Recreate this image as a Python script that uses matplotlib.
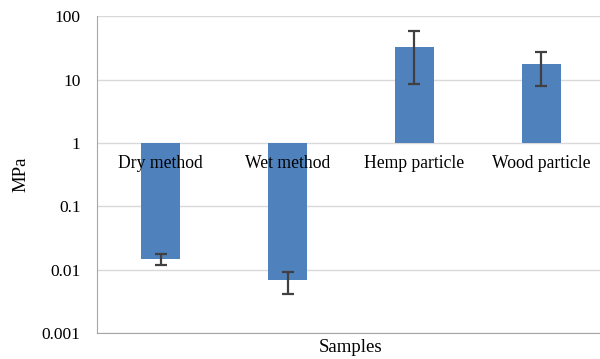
import matplotlib
matplotlib.use("Agg")
from matplotlib import pyplot as plt
import numpy as np

# data (log axis, bars hang from 1)
samples = ["Dry method", "Wet method", "Hemp particle", "Wood particle"]
mpa = [0.0147, 0.0069, 33.0, 17.5]
err_low = [0.0118, 0.0042, 8.4, 7.9]
err_high = [0.0176, 0.0093, 58.5, 27.3]

plt.rcParams['font.family'] = ['Liberation Serif', 'DejaVu Serif']

fig = plt.figure(figsize=(6.0, 3.59), dpi=100)
ax = fig.add_axes([0.162, 0.072, 0.846, 0.883])

x = np.arange(len(samples))
vals = np.array(mpa)
yerr = [vals - np.array(err_low), np.array(err_high) - vals]

ax.bar(x, vals - 1, bottom=1, width=0.31, color="#4f81bd", zorder=3)
ax.errorbar(x, vals, yerr=yerr, fmt="none", ecolor="#404040",
            elinewidth=1.6, capsize=4, capthick=1.6, zorder=4)

ax.set_yscale("log")
ax.set_ylim(0.001, 100)
ax.set_xlim(-0.5, 3.5)
ax.set_yticks([0.001, 0.01, 0.1, 1, 10, 100])
ax.set_yticklabels(["0.001", "0.01", "0.1", "1", "10", "100"])
ax.minorticks_off()
ax.set_xticks([])
ax.tick_params(axis="y", length=0, pad=12, labelsize=12.5)

ax.grid(axis="y", color="#d9d9d9", linewidth=1, zorder=0)
for s in ["top", "right"]:
    ax.spines[s].set_visible(False)
ax.spines["left"].set_color("#a6a6a6")
ax.spines["bottom"].set_color("#a6a6a6")

# category labels sit under the axis crossing at 1
for i, name in enumerate(samples):
    ax.annotate(name, (i, 1), xytext=(0, -9), textcoords="offset points",
                ha="center", va="top", fontsize=12.7, zorder=5)

ax.set_xlabel("Samples", fontsize=13.5, labelpad=4)
ax.set_ylabel("MPa", fontsize=13.5, labelpad=9)

fig.savefig("out.png", dpi=100)
